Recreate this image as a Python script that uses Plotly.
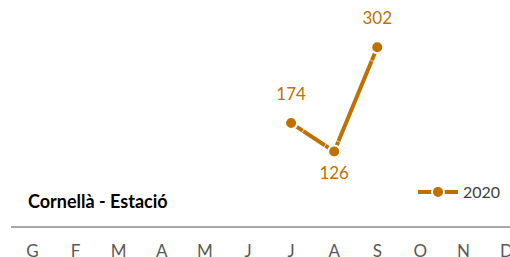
import plotly.graph_objects as go

months = ["G", "F", "M", "A", "M", "J", "J", "A", "S", "O", "N", "D"]
values_2020 = [None, None, None, None, None, None, 174, 126, 302, None, None, None]
series_name = "2020"
title = "Cornellà - Estació"

color = "#C07000"
FONT = "Lato, Open Sans, sans-serif"
xs = list(range(len(months)))
labels = [str(v) if v is not None else "" for v in values_2020]
positions = ["bottom center" if i == 7 else "top center" for i in xs]
# invisible spacer markers push the value labels away from the points
label_pad = [22 if i == 7 else 29 for i in xs]

fig = go.Figure()
fig.add_trace(go.Scatter(
    x=xs, y=values_2020, mode="lines+markers", name=series_name,
    line=dict(color=color, width=4),
    marker=dict(size=12, color=color, line=dict(color="white", width=2)),
    connectgaps=False, cliponaxis=False,
))
fig.add_trace(go.Scatter(
    x=xs, y=values_2020, mode="markers+text", showlegend=False, hoverinfo="skip",
    marker=dict(size=label_pad, color="rgba(0,0,0,0)"),
    text=labels, textposition=positions,
    textfont=dict(color=color, size=17, family=FONT),
    cliponaxis=False,
))

fig.update_layout(
    width=510, height=257,
    margin=dict(l=11, r=0, t=0, b=31, autoexpand=False),
    paper_bgcolor="white", plot_bgcolor="white",
    showlegend=True,
    legend=dict(x=(413 - 11) / 499, y=(226 - 192) / 226, xanchor="left", yanchor="middle",
                font=dict(size=16, color="#404040", family=FONT),
                bgcolor="rgba(0,0,0,0)", itemwidth=40),
    font=dict(family=FONT),
)
fig.add_annotation(text="<b>" + title + "</b>", xref="paper", yref="paper",
                   x=(26 - 11) / 499, y=(226 - 201) / 226, xanchor="left", yanchor="middle",
                   showarrow=False, font=dict(size=18, color="#000000", family=FONT))

fig.update_xaxes(
    type="linear", range=[-0.5, 11.08], automargin=False,
    tickmode="array", tickvals=xs, ticktext=months,
    showgrid=False, zeroline=False, showline=True, linecolor="#A6A6A6", linewidth=2,
    ticks="", tickfont=dict(size=17, color="#595959", family=FONT),
    ticklabelstandoff=9, ticklabeloverflow="allow",
)
fig.update_yaxes(range=[0, 382], visible=False, showgrid=False, zeroline=False, automargin=False)

fig.write_html("out.html", config={"displayModeBar": False},
               post_script="document.body.style.margin='0';document.body.style.overflow='hidden';")
